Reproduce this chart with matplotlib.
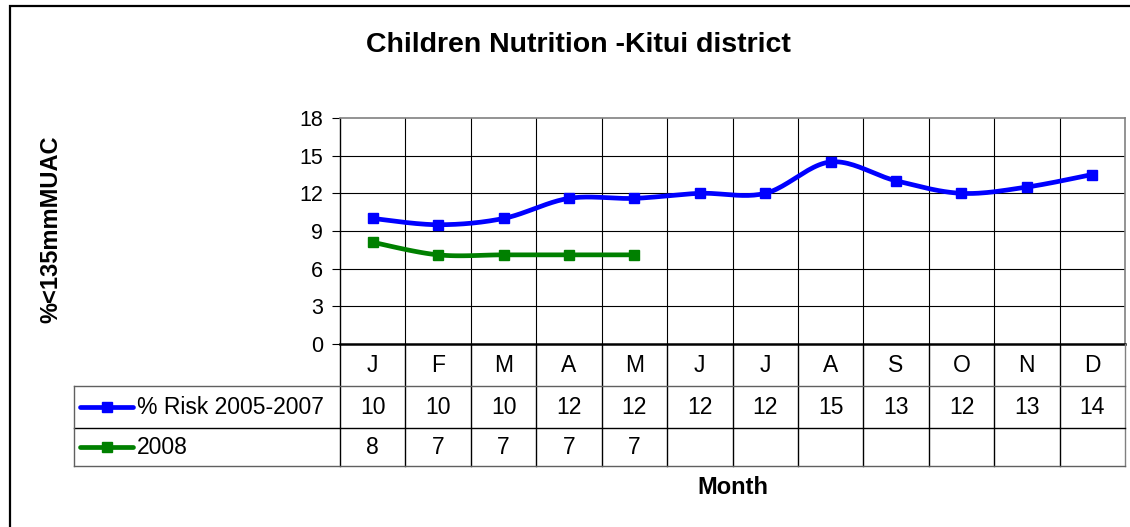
import numpy as np
import matplotlib
matplotlib.use("Agg")
import matplotlib.pyplot as plt
from matplotlib.lines import Line2D
from matplotlib.patches import Rectangle
from matplotlib.transforms import blended_transform_factory

# ---- data ----
title = "Children Nutrition -Kitui district"
ylabel = "%<135mmMUAC"
xlabel = "Month"
months = ["J", "F", "M", "A", "M", "J", "J", "A", "S", "O", "N", "D"]
risk_label = "% Risk 2005-2007"
risk = [10.0, 9.5, 10.0, 11.6, 11.6, 12.0, 12.0, 14.5, 13.0, 12.0, 12.5, 13.5]
y2008_label = "2008"
y2008 = [8.1, 7.1, 7.1, 7.1, 7.1]
yticks = [0, 3, 6, 9, 12, 15, 18]

plt.rcParams['font.family'] = ['Liberation Sans', 'DejaVu Sans']

W, H = 1130, 527
fig = plt.figure(figsize=(W / 100, H / 100), dpi=100)

FS = 16.5


def fx(px):
    return px / W


def fy(py):
    return 1 - py / H


L, R, T, B = 340, 1125, 118, 344
ax = fig.add_axes([fx(L), fy(B), fx(R) - fx(L), fy(T) - fy(B)])
n = len(months)
ax.set_xlim(-0.5, n - 0.5)
ax.set_ylim(yticks[0], yticks[-1])


def smooth(xs, ys, k=24):
    p = np.column_stack([xs, ys]).astype(float)
    out = []
    for i in range(len(p) - 1):
        p0 = p[i - 1] if i > 0 else p[i]
        p1, p2 = p[i], p[i + 1]
        p3 = p[i + 2] if i + 2 < len(p) else p[i + 1]
        c1 = p1 + (p2 - p0) / 6
        c2 = p2 - (p3 - p1) / 6
        t = np.linspace(0, 1, k)[:, None]
        seg = (1 - t) ** 3 * p1 + 3 * (1 - t) ** 2 * t * c1 + 3 * (1 - t) * t ** 2 * c2 + t ** 3 * p2
        out.append(seg if i == 0 else seg[1:])
    return np.vstack(out)


# grid
for yv in yticks[1:-1]:
    ax.axhline(yv, color='black', lw=0.8, zorder=1)
for i in range(1, n):
    ax.axvline(i - 0.5, color='black', lw=0.8, zorder=1)

series = [(risk, '#0000FF', risk_label), (y2008, '#008000', y2008_label)]
for vals, col, lab in series:
    xs = np.arange(len(vals))
    s = smooth(xs, vals)
    ax.plot(s[:, 0], s[:, 1], color=col, lw=3.4, solid_capstyle='round', zorder=3)
    ax.plot(xs, vals, ls='none', marker='s', ms=7.8, color=col, zorder=4)

ax.set_xticks([])
ax.set_yticks(yticks)
ax.set_yticklabels([str(v) for v in yticks], fontsize=15.5)
ax.tick_params(axis='y', direction='out', length=6, width=0.8, pad=6)
ax.spines['left'].set_color('black')
ax.spines['left'].set_linewidth(1.0)
ax.spines['bottom'].set_color('black')
ax.spines['bottom'].set_linewidth(1.8)
ax.spines['top'].set_color('#808080')
ax.spines['right'].set_color('#808080')
ax.spines['top'].set_linewidth(1.2)
ax.spines['right'].set_linewidth(1.2)

# ---- data table ----
tr = blended_transform_factory(ax.transData, fig.transFigure)
rows = [344, 386, 428, 466]
legend_left = 74


def fig_line(x0, x1, y0, y1, color='black', lw=0.8, transform=fig.transFigure):
    fig.add_artist(Line2D([x0, x1], [y0, y1], color=color, lw=lw, transform=transform))


# vertical column lines
for i in range(n + 1):
    col = '#808080' if i == n else 'black'
    fig_line(i - 0.5, i - 0.5, fy(rows[0]), fy(rows[-1]), color=col, lw=1.0, transform=tr)
# horizontal lines
fig_line(fx(legend_left), fx(R), fy(rows[1]), fy(rows[1]), color='#606060', lw=1.0)
fig_line(fx(legend_left), fx(R), fy(rows[2]), fy(rows[2]), color='black', lw=1.0)
fig_line(fx(legend_left), fx(R), fy(rows[3]), fy(rows[3]), color='#606060', lw=1.0)
fig_line(fx(legend_left), fx(legend_left), fy(rows[1]), fy(rows[3]), color='#606060', lw=1.0)


def rc(a, b):
    return fy((a + b) / 2)


for i, m in enumerate(months):
    fig.text(i, rc(rows[0], rows[1]), m, transform=tr, ha='center', va='center', fontsize=FS)

for r, (vals, col, lab) in enumerate(series):
    yc = rc(rows[r + 1], rows[r + 2])
    for i, v in enumerate(vals):
        fig.text(i, yc, str(int(np.floor(v + 0.5))), transform=tr, ha='center', va='center', fontsize=FS)
    fig.add_artist(Line2D([fx(80), fx(133)], [yc, yc], color=col, lw=3.4,
                          solid_capstyle='round', transform=fig.transFigure))
    fig.add_artist(Line2D([fx(106.5)], [yc], color=col, marker='s', ms=7.8, ls='none',
                          transform=fig.transFigure))
    fig.text(fx(137), yc, lab, ha='left', va='center', fontsize=FS)

# titles
fig.text(fx(578), fy(45), title, ha='center', va='center', fontsize=20.5, fontweight='bold')
fig.text(fx(51), fy(229), ylabel, ha='center', va='center', rotation=90, fontsize=17, fontweight='bold')
fig.text(fx(733), fy(488), xlabel, ha='center', va='center', fontsize=17, fontweight='bold')

# outer frame
fig.add_artist(Rectangle((fx(10), fy(540)), fx(1140) - fx(10), fy(6) - fy(540),
                         fill=False, edgecolor='black', lw=1.6, transform=fig.transFigure))

fig.savefig("out.png", dpi=100)
